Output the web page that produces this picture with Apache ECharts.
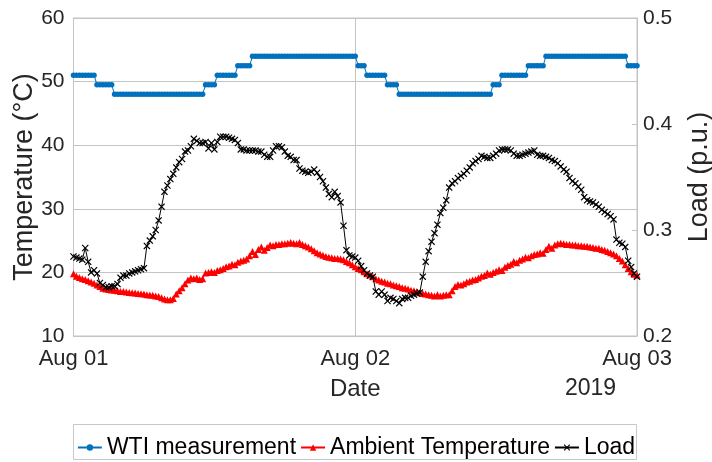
<!DOCTYPE html>
<html>
<head>
<meta charset="utf-8">
<script src="https://cdn.jsdelivr.net/npm/echarts@6/dist/echarts.min.js"></script>
<style>
  html, body { margin: 0; padding: 0; background: #fff; }
  #chart { width: 712px; height: 462px; }
</style>
</head>
<body>
<div id="chart"></div>
<script>
// Samples every 15 minutes, from Aug 01 00:00 to Aug 03 00:00 (2019)
const STEP_HOURS = 0.25;
const dayLabels = ['Aug 01', 'Aug 02', 'Aug 03'];
const yearLabel = '2019';

// Winding temperature indicator reading (°C)
const wtiTemp = [
  51, 51, 51, 51, 51, 51, 51, 51, 49.5, 49.5, 49.5, 49.5,
  49.5, 49.5, 48, 48, 48, 48, 48, 48, 48, 48, 48, 48,
  48, 48, 48, 48, 48, 48, 48, 48, 48, 48, 48, 48,
  48, 48, 48, 48, 48, 48, 48, 48, 48, 49.5, 49.5, 49.5,
  49.5, 51, 51, 51, 51, 51, 51, 51, 52.5, 52.5, 52.5, 52.5,
  52.5, 54, 54, 54, 54, 54, 54, 54, 54, 54, 54, 54,
  54, 54, 54, 54, 54, 54, 54, 54, 54, 54, 54, 54,
  54, 54, 54, 54, 54, 54, 54, 54, 54, 54, 54, 54,
  54, 52.5, 52.5, 52.5, 51, 51, 51, 51, 51, 51, 51, 49.5,
  49.5, 49.5, 49.5, 48, 48, 48, 48, 48, 48, 48, 48, 48,
  48, 48, 48, 48, 48, 48, 48, 48, 48, 48, 48, 48,
  48, 48, 48, 48, 48, 48, 48, 48, 48, 48, 48, 49.5,
  49.5, 49.5, 51, 51, 51, 51, 51, 51, 51, 51, 51, 52.5,
  52.5, 52.5, 52.5, 52.5, 52.5, 54, 54, 54, 54, 54, 54, 54,
  54, 54, 54, 54, 54, 54, 54, 54, 54, 54, 54, 54,
  54, 54, 54, 54, 54, 54, 54, 54, 54, 52.5, 52.5, 52.5,
  52.5
];

// Ambient air temperature (°C)
const ambientTemp = [
  19.8, 19.4, 19.2, 19.0, 18.9, 18.7, 18.5, 18.3, 18.0, 17.8, 17.5, 17.4,
  17.3, 17.25, 17.2, 17.1, 17.0, 17.0, 16.9, 16.85, 16.8, 16.75, 16.7, 16.65,
  16.6, 16.5, 16.45, 16.4, 16.3, 16.2, 16.0, 15.8, 15.7, 15.7, 15.9, 16.6,
  17.1, 17.6, 18.2, 18.8, 19.1, 19.0, 19.1, 18.9, 19.0, 19.9, 20.0, 20.1,
  20.0, 20.3, 20.4, 20.6, 20.9, 21.0, 21.3, 21.2, 21.6, 21.8, 21.9, 22.1,
  22.6, 23.3, 22.8, 23.6, 24.0, 23.5, 23.9, 24.3, 24.2, 24.4, 24.4, 24.5,
  24.5, 24.6, 24.7, 24.6, 24.5, 24.7, 24.4, 24.2, 24.0, 23.7, 23.4, 23.1,
  22.9, 22.7, 22.5, 22.4, 22.3, 22.2, 22.2, 22.1, 22.0, 21.7, 21.5, 21.2,
  20.9, 20.6, 20.4, 20.1, 19.8, 19.6, 19.3, 19.0, 18.8, 18.6, 18.5, 18.3,
  18.2, 18.0, 17.9, 17.8, 17.6, 17.5, 17.4, 17.2, 17.1, 17.0, 16.8, 16.7,
  16.6, 16.5, 16.4, 16.3, 16.5, 16.3, 16.4, 16.5, 16.5, 17.1, 17.8, 18.1,
  18.0, 18.2, 18.5, 18.6, 18.8, 18.9, 19.1, 19.4, 19.5, 19.9, 19.7, 20.0,
  20.2, 20.4, 20.3, 20.8, 21.1, 21.3, 21.7, 21.5, 21.9, 22.1, 22.4, 22.3,
  22.6, 22.8, 22.9, 23.1, 23.0, 23.6, 24.1, 23.8, 24.3, 24.5, 24.6, 24.5,
  24.4, 24.4, 24.3, 24.3, 24.2, 24.2, 24.1, 24.1, 24.0, 23.9, 23.8, 23.8,
  23.6, 23.5, 23.3, 23.1, 22.9, 22.6, 22.2, 21.8, 21.2, 20.6, 20.1, 19.7,
  19.6
];

// Transformer load (p.u.)
const loadPu = [
  0.275, 0.274, 0.273, 0.272, 0.283, 0.270, 0.260, 0.262, 0.259, 0.250, 0.248, 0.246,
  0.246, 0.247, 0.247, 0.249, 0.255, 0.257, 0.257, 0.259, 0.260, 0.261, 0.262, 0.263,
  0.264, 0.285, 0.290, 0.294, 0.300, 0.309, 0.322, 0.336, 0.342, 0.348, 0.353, 0.359,
  0.364, 0.367, 0.374, 0.375, 0.379, 0.386, 0.384, 0.382, 0.382, 0.383, 0.377, 0.382,
  0.376, 0.383, 0.388, 0.388, 0.388, 0.387, 0.386, 0.385, 0.382, 0.376, 0.376, 0.375,
  0.375, 0.375, 0.375, 0.374, 0.374, 0.371, 0.369, 0.369, 0.375, 0.379, 0.379, 0.378,
  0.374, 0.370, 0.369, 0.366, 0.366, 0.358, 0.356, 0.355, 0.354, 0.355, 0.357, 0.354,
  0.350, 0.346, 0.340, 0.334, 0.331, 0.336, 0.332, 0.326, 0.304, 0.281, 0.276, 0.275,
  0.274, 0.271, 0.266, 0.262, 0.259, 0.257, 0.256, 0.242, 0.239, 0.242, 0.239, 0.233,
  0.236, 0.235, 0.233, 0.231, 0.235, 0.236, 0.236, 0.238, 0.239, 0.240, 0.241, 0.256,
  0.270, 0.280, 0.289, 0.297, 0.305, 0.316, 0.321, 0.328, 0.340, 0.344, 0.346, 0.349,
  0.351, 0.353, 0.356, 0.359, 0.363, 0.365, 0.367, 0.370, 0.369, 0.368, 0.368, 0.370,
  0.372, 0.375, 0.376, 0.376, 0.376, 0.375, 0.372, 0.370, 0.370, 0.371, 0.372, 0.373,
  0.374, 0.375, 0.371, 0.370, 0.370, 0.369, 0.368, 0.366, 0.365, 0.363, 0.360, 0.357,
  0.355, 0.349, 0.346, 0.344, 0.341, 0.338, 0.331, 0.328, 0.327, 0.326, 0.324, 0.322,
  0.319, 0.317, 0.315, 0.313, 0.310, 0.291, 0.288, 0.287, 0.284, 0.271, 0.265, 0.259,
  0.256
];

const seriesNames = ['WTI measurement', 'Ambient Temperature', 'Load'];

const FONT = '"Liberation Sans", Arial, Helvetica, sans-serif';
const TEXT = '#262626';
const GRID_LINE = '#c4c4c4';

// pair each sample with its time offset in hours
const toPoints = arr => arr.map((v, i) => [i * STEP_HOURS, v]);

const crossSymbol = 'path://M0,1.2L1.2,0L5,3.8L8.8,0L10,1.2L6.2,5L10,8.8L8.8,10L5,6.2L1.2,10L0,8.8L3.8,5Z';

const chart = echarts.init(document.getElementById('chart'), null, { renderer: 'canvas' });

chart.setOption({
  animation: false,
  backgroundColor: '#fff',
  textStyle: { fontFamily: FONT, color: TEXT },
  grid: {
    left: 73.5, right: 75, top: 18, bottom: 126,
    show: true, borderColor: GRID_LINE, borderWidth: 1,
    containLabel: false, outerBoundsMode: 'none'
  },
  graphic: [
    {
      type: 'rect', z: -1, silent: true,
      shape: { x: 73.5, y: 424.5, width: 563, height: 35 },
      style: { fill: '#fff', stroke: '#c8c8c8', lineWidth: 1 }
    },
    {
      type: 'text', silent: true, left: 565, top: 377,
      style: { text: yearLabel, font: '23px ' + FONT, fill: TEXT }
    }
  ],
  legend: {
    data: seriesNames,
    left: 'center', top: 431,
    itemWidth: 24, itemHeight: 8, itemGap: 4,
    textStyle: { fontSize: 23, color: '#000', fontFamily: FONT }
  },
  xAxis: {
    type: 'value', min: 0, max: 48, interval: 24,
    name: 'Date', nameLocation: 'middle', nameGap: 41, nameMoveOverlap: false,
    nameTextStyle: { fontSize: 24, color: TEXT },
    axisLine: { show: true, lineStyle: { color: GRID_LINE } },
    axisTick: { show: false },
    axisLabel: {
      fontSize: 22, color: TEXT, margin: 12,
      formatter: v => dayLabels[Math.round(v / 24)]
    },
    splitLine: { show: true, lineStyle: { color: GRID_LINE, width: 1 } }
  },
  yAxis: [
    {
      type: 'value', min: 10, max: 60, interval: 10, position: 'left',
      name: 'Temperature (°C)', nameLocation: 'middle', nameGap: 35, nameMoveOverlap: false,
      nameTextStyle: { fontSize: 27, color: TEXT },
      axisLine: { show: true, lineStyle: { color: GRID_LINE } },
      axisTick: { show: true, inside: true, length: 5, lineStyle: { color: GRID_LINE } },
      axisLabel: { fontSize: 21, color: TEXT, margin: 9 },
      splitLine: { show: true, lineStyle: { color: GRID_LINE, width: 1 } }
    },
    {
      type: 'value', min: 0.2, max: 0.5, interval: 0.1, position: 'right',
      name: 'Load (p.u.)', nameLocation: 'middle', nameGap: 49, nameMoveOverlap: false,
      nameTextStyle: { fontSize: 27, color: TEXT },
      axisLine: { show: true, lineStyle: { color: GRID_LINE } },
      axisTick: { show: true, inside: true, length: 5, lineStyle: { color: GRID_LINE } },
      axisLabel: { fontSize: 21, color: TEXT, margin: 6, formatter: v => v.toFixed(1) },
      splitLine: { show: false }
    }
  ],
  series: [
    {
      name: seriesNames[0], type: 'line', yAxisIndex: 0,
      data: toPoints(wtiTemp),
      showSymbol: true, showAllSymbol: true,
      symbol: 'circle', symbolSize: 5.5,
      lineStyle: { color: '#0072BD', width: 1 },
      itemStyle: { color: '#0072BD' },
      z: 2
    },
    {
      name: seriesNames[1], type: 'line', yAxisIndex: 0,
      data: toPoints(ambientTemp),
      showSymbol: true, showAllSymbol: true,
      symbol: 'triangle', symbolSize: 7,
      lineStyle: { color: '#FF0000', width: 1 },
      itemStyle: { color: '#FF0000' },
      z: 3
    },
    {
      name: seriesNames[2], type: 'line', yAxisIndex: 1,
      data: toPoints(loadPu),
      showSymbol: true, showAllSymbol: true,
      symbol: crossSymbol, symbolSize: 7,
      lineStyle: { color: '#000', width: 1 },
      itemStyle: { color: '#000' },
      z: 4
    }
  ]
});
</script>
</body>
</html>
